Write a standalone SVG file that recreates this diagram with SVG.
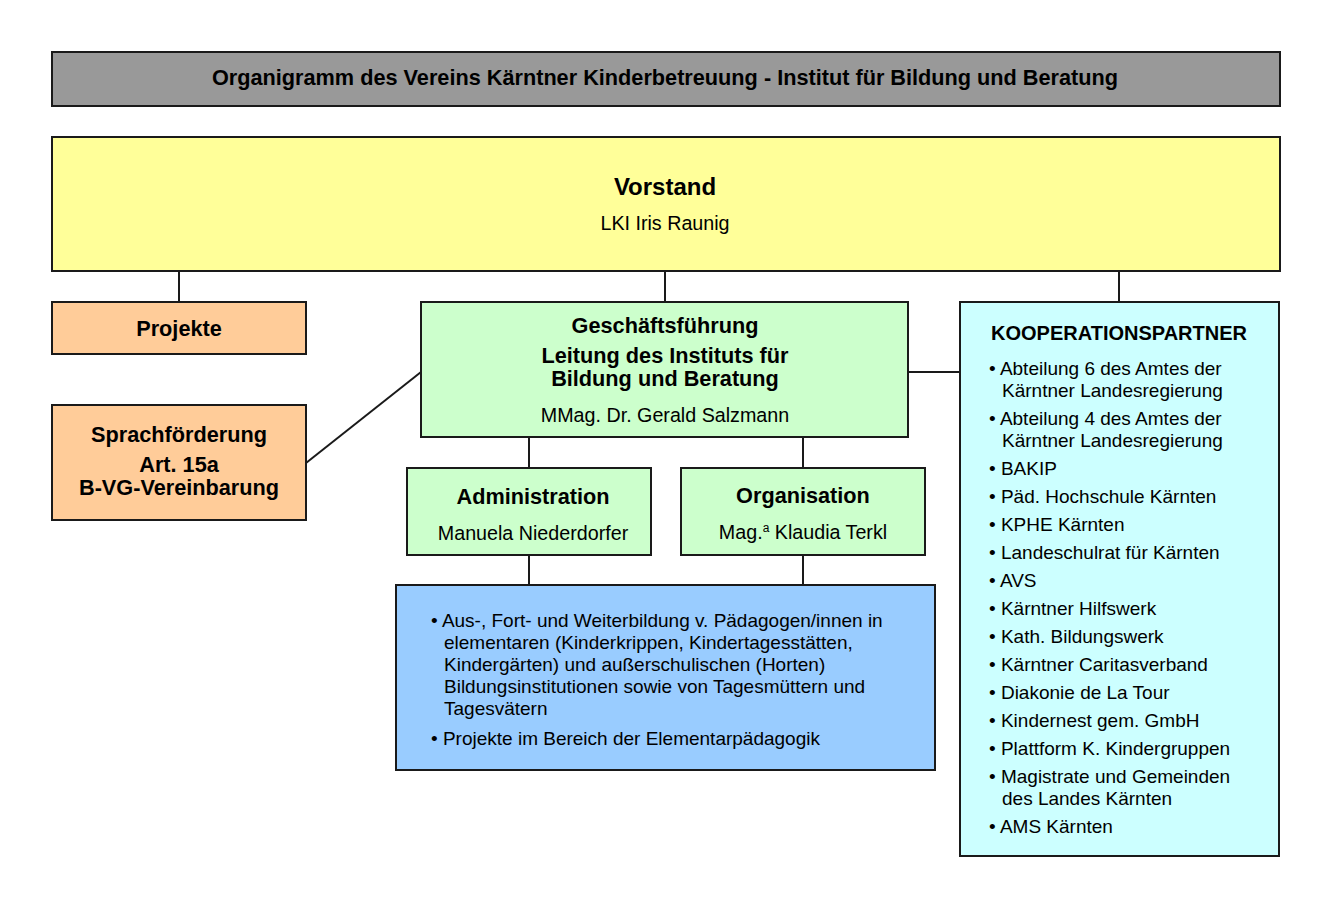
<svg xmlns="http://www.w3.org/2000/svg" width="1331" height="908" viewBox="0 0 1331 908">
<style>
.box{stroke:#1a1a1a;stroke-width:2}
.t{font-family:"Liberation Sans",Arial,sans-serif;font-size:19.7px;fill:#000}
.b{font-weight:bold;font-size:21.7px}
.l{font-size:19px}
.c{text-anchor:middle}
.con{stroke:#1a1a1a;stroke-width:2;fill:none}
</style>
<rect width="1331" height="908" fill="#fff"/>
<g id="title">
<rect class="box" x="52" y="52" width="1228" height="54" fill="#999999"/>
<text class="t b c" x="665" y="85" font-size="21.8">Organigramm des Vereins Kärntner Kinderbetreuung - Institut für Bildung und Beratung</text>
</g>
<g id="connectors">
<line class="con" x1="179" y1="271" x2="179" y2="302"/>
<line class="con" x1="665" y1="271" x2="665" y2="302"/>
<line class="con" x1="1119" y1="271" x2="1119" y2="302"/>
<line class="con" x1="908" y1="372" x2="960" y2="372"/>
<line class="con" x1="306" y1="463" x2="421" y2="372"/>
<line class="con" x1="529" y1="437" x2="529" y2="468"/>
<line class="con" x1="803" y1="437" x2="803" y2="468"/>
<line class="con" x1="529" y1="555" x2="529" y2="585"/>
<line class="con" x1="803" y1="555" x2="803" y2="585"/>
</g>
<g id="vorstand">
<rect class="box" x="52" y="137" width="1228" height="134" fill="#FFFF99"/>
<text class="t b c" x="665" y="195" style="font-size:24px">Vorstand</text>
<text class="t c" x="665" y="230">LKI Iris Raunig</text>
</g>
<g id="projekte">
<rect class="box" x="52" y="302" width="254" height="52" fill="#FFCC99"/>
<text class="t b c" x="179" y="336">Projekte</text>
</g>
<g id="sprachfoerderung">
<rect class="box" x="52" y="405" width="254" height="115" fill="#FFCC99"/>
<text class="t b c" x="179" y="442">Sprachförderung</text>
<text class="t b c" x="179" y="472">Art. 15a</text>
<text class="t b c" x="179" y="495">B-VG-Vereinbarung</text>
</g>
<g id="geschaeftsfuehrung">
<rect class="box" x="421" y="302" width="487" height="135" fill="#CCFFCC"/>
<text class="t b c" x="665" y="333">Geschäftsführung</text>
<text class="t b c" x="665" y="363">Leitung des Instituts für</text>
<text class="t b c" x="665" y="386">Bildung und Beratung</text>
<text class="t c" x="665" y="422">MMag. Dr. Gerald Salzmann</text>
</g>
<g id="administration">
<rect class="box" x="407" y="468" width="244" height="87" fill="#CCFFCC"/>
<text class="t b c" x="533" y="504">Administration</text>
<text class="t c" x="533" y="540">Manuela Niederdorfer</text>
</g>
<g id="organisation">
<rect class="box" x="681" y="468" width="244" height="87" fill="#CCFFCC"/>
<text class="t b c" x="803" y="503">Organisation</text>
<text class="t c" x="803" y="539">Mag.<tspan font-size="12" dy="-7">a</tspan><tspan dy="7"> Klaudia Terkl</tspan></text>
</g>
<g id="aufgaben">
<rect class="box" x="396" y="585" width="539" height="185" fill="#99CCFF"/>
<text class="t l" x="431" y="627">• Aus-, Fort- und Weiterbildung v. Pädagogen/innen in</text>
<text class="t l" x="444" y="649">elementaren (Kinderkrippen, Kindertagesstätten,</text>
<text class="t l" x="444" y="671">Kindergärten) und außerschulischen (Horten)</text>
<text class="t l" x="444" y="693">Bildungsinstitutionen sowie von Tagesmüttern und</text>
<text class="t l" x="444" y="715">Tagesvätern</text>
<text class="t l" x="431" y="745">• Projekte im Bereich der Elementarpädagogik</text>
</g>
<g id="kooperationspartner">
<rect class="box" x="960" y="302" width="319" height="554" fill="#CCFFFF"/>
<text class="t c" x="1119" y="340" style="font-weight:bold;font-size:20px">KOOPERATIONSPARTNER</text>
<text class="t l" x="989" y="375">• Abteilung 6 des Amtes der</text>
<text class="t l" x="1002" y="397">Kärntner Landesregierung</text>
<text class="t l" x="989" y="425">• Abteilung 4 des Amtes der</text>
<text class="t l" x="1002" y="447">Kärntner Landesregierung</text>
<text class="t l" x="989" y="475">• BAKIP</text>
<text class="t l" x="989" y="503">• Päd. Hochschule Kärnten</text>
<text class="t l" x="989" y="531">• KPHE Kärnten</text>
<text class="t l" x="989" y="559">• Landeschulrat für Kärnten</text>
<text class="t l" x="989" y="587">• AVS</text>
<text class="t l" x="989" y="615">• Kärntner Hilfswerk</text>
<text class="t l" x="989" y="643">• Kath. Bildungswerk</text>
<text class="t l" x="989" y="671">• Kärntner Caritasverband</text>
<text class="t l" x="989" y="699">• Diakonie de La Tour</text>
<text class="t l" x="989" y="727">• Kindernest gem. GmbH</text>
<text class="t l" x="989" y="755">• Plattform K. Kindergruppen</text>
<text class="t l" x="989" y="783">• Magistrate und Gemeinden</text>
<text class="t l" x="1002" y="805">des Landes Kärnten</text>
<text class="t l" x="989" y="833">• AMS Kärnten</text>
</g>
</svg>
